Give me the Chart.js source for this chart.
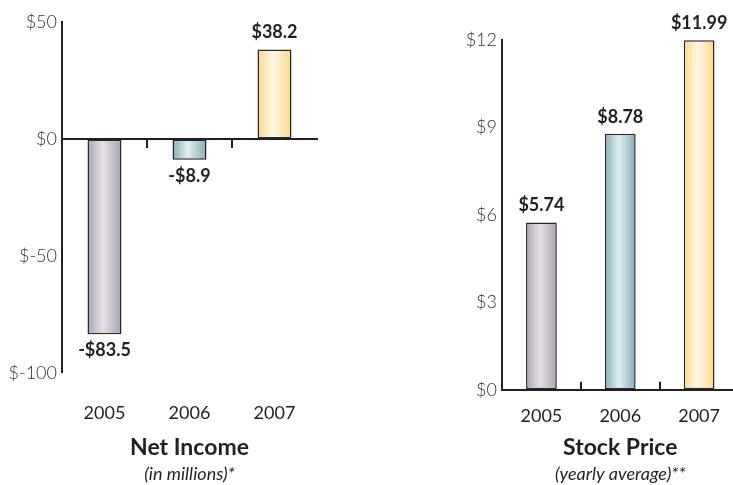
<!DOCTYPE html>
<html>
<head>
<meta charset="utf-8">
<script src="https://cdn.jsdelivr.net/npm/chart.js@4/dist/chart.umd.min.js"></script>
<style>
  html, body { margin:0; padding:0; background:#fff; width:733px; height:485px; overflow:hidden; position:relative; }
  .box { position:absolute; top:0; height:485px; }
  #boxIncome { left:0; width:330px; }
  #boxStock { left:440px; width:305px; }
</style>
</head>
<body>
<div class="box" id="boxIncome"><canvas id="chart-income"></canvas></div>
<div class="box" id="boxStock"><canvas id="chart-stock"></canvas></div>
<script>
// datos
const years = ['2005', '2006', '2007'];
const netIncome = [-83.5, -8.9, 38.2];
const stockPrice = [5.74, 8.78, 11.99];
const incomeTicks = [-100, -50, 0, 50];
const stockTicks = [0, 3, 6, 9, 12];

// colores de barras: borde, centro
const shades = [
  ['#aea3b4', '#e4e0e6'],
  ['#87adb8', '#e0eef1'],
  ['#fcd68a', '#fff8e6']
];

const FONT = 'Lato, "Open Sans", sans-serif';
const INK = '#231f20';

function barFill(frac){
  return (c) => {
    const chart = c.chart, x = chart.scales.x;
    const s = shades[c.dataIndex] || shades[0];
    if (!chart.chartArea || !x) return s[0];
    const cx = x.getPixelForValue(c.dataIndex);
    const half = (x.width / years.length) * frac / 2;
    const g = chart.ctx.createLinearGradient(cx - half, 0, cx + half, 0);
    g.addColorStop(0, s[0]);
    g.addColorStop(0.45, s[1]);
    g.addColorStop(1, s[0]);
    return g;
  };
}

// etiquetas de valor sobre / bajo las barras
function valueLabels(fmt){
  return {
    id: 'valueLabels',
    afterDatasetsDraw(chart){
      const ctx = chart.ctx;
      const meta = chart.getDatasetMeta(0);
      const data = chart.data.datasets[0].data;
      ctx.save();
      ctx.font = 'bold 18px ' + FONT;
      ctx.fillStyle = INK;
      ctx.textAlign = 'center';
      ctx.textBaseline = 'middle';
      meta.data.forEach((bar, i) => {
        const v = data[i];
        const y = v >= 0 ? bar.y - 17 : bar.y + 16;
        ctx.fillText(fmt(v), bar.x, y);
      });
      ctx.restore();
    }
  };
}

const innerTicks = (c) => (c.index === 1 || c.index === 2) ? INK : 'rgba(0,0,0,0)';

function yAxis(min, max, step, list){
  return {
    min, max,
    afterFit: (s) => { s.width = 62; },
    afterBuildTicks: (s) => { s.ticks = list.map(v => ({ value: v })); },
    grid: { display: true, drawOnChartArea: false, drawTicks: false },
    border: { display: true, color: INK, width: 2 },
    ticks: {
      stepSize: step, padding: 5, color: '#333',
      font: { family: FONT, size: 18, weight: '300' },
      callback: (v) => '$' + v
    }
  };
}

function titles(main, sub, padMain, padSub){
  return {
    title: {
      display: true, text: main, position: 'bottom', fullSize: false, color: INK,
      font: { family: FONT, size: 23, weight: 'bold', lineHeight: 1.2 },
      padding: { top: padMain, bottom: 0 }
    },
    subtitle: {
      display: true, text: sub, position: 'bottom', fullSize: false, weight: 2500, color: INK,
      font: { family: FONT, size: 18, style: 'italic', lineHeight: 1.2 },
      padding: { top: padSub, bottom: 0 }
    }
  };
}

function drawIncome(){
  const frac = 0.4;
  // eslint-disable-next-line no-undef
  return new Chart(document.getElementById('chart-income'), {
    type: 'bar',
    data: { labels: years, datasets: [{
      data: netIncome,
      backgroundColor: barFill(frac),
      borderColor: '#2a2a2a', borderWidth: 1.5, borderSkipped: false,
      categoryPercentage: 1, barPercentage: frac
    }]},
    plugins: [valueLabels(v => (v < 0 ? '-$' : '$') + Math.abs(v).toFixed(1))],
    options: {
      responsive: true, maintainAspectRatio: false, animation: false,
      layout: { padding: { top: 22, right: 13, left: 0, bottom: 0 } },
      plugins: Object.assign({ legend: { display: false }, tooltip: { enabled: false } },
        titles('Net Income', '(in millions)*', 9, 2)),
      scales: {
        x: {
          offset: true,
          afterFit: (s) => { s.height = 52; },
          grid: { display: true, drawOnChartArea: false, drawTicks: false },
          border: { display: false },
          ticks: { padding: 30, color: INK, font: { family: FONT, size: 18, lineHeight: 1.2 } }
        },
        x2: {
          type: 'category', position: { y: 0 }, offset: true,
          grid: { display: true, drawOnChartArea: false, drawTicks: true, tickLength: 8, lineWidth: 2, tickColor: innerTicks },
          border: { display: true, color: INK, width: 2 },
          ticks: { display: false }
        },
        y: yAxis(-100, 50, 50, incomeTicks)
      }
    }
  });
}

function drawStock(){
  const frac = 0.39;
  // eslint-disable-next-line no-undef
  return new Chart(document.getElementById('chart-stock'), {
    type: 'bar',
    data: { labels: years, datasets: [{
      data: stockPrice,
      backgroundColor: barFill(frac),
      borderColor: '#2a2a2a', borderWidth: 1.5, borderSkipped: false,
      categoryPercentage: 1, barPercentage: frac
    }]},
    plugins: [valueLabels(v => '$' + v.toFixed(2))],
    options: {
      responsive: true, maintainAspectRatio: false, animation: false,
      layout: { padding: { top: 40, right: 6, left: 0, bottom: 0 } },
      plugins: Object.assign({ legend: { display: false }, tooltip: { enabled: false } },
        titles('Stock Price', '(yearly average)**', 6, 2)),
      scales: {
        x: {
          offset: true,
          afterFit: (s) => { s.height = 38; },
          grid: { display: true, drawOnChartArea: false, drawTicks: true, tickLength: -8, lineWidth: 2, tickColor: innerTicks },
          border: { display: true, color: INK, width: 2 },
          ticks: { padding: 24, color: INK, font: { family: FONT, size: 18, lineHeight: 1.2 } }
        },
        y: yAxis(0, 12, 3, stockTicks)
      }
    }
  });
}

document.addEventListener('DOMContentLoaded', () => {
  drawIncome();
  drawStock();
});
</script>
</body>
</html>
